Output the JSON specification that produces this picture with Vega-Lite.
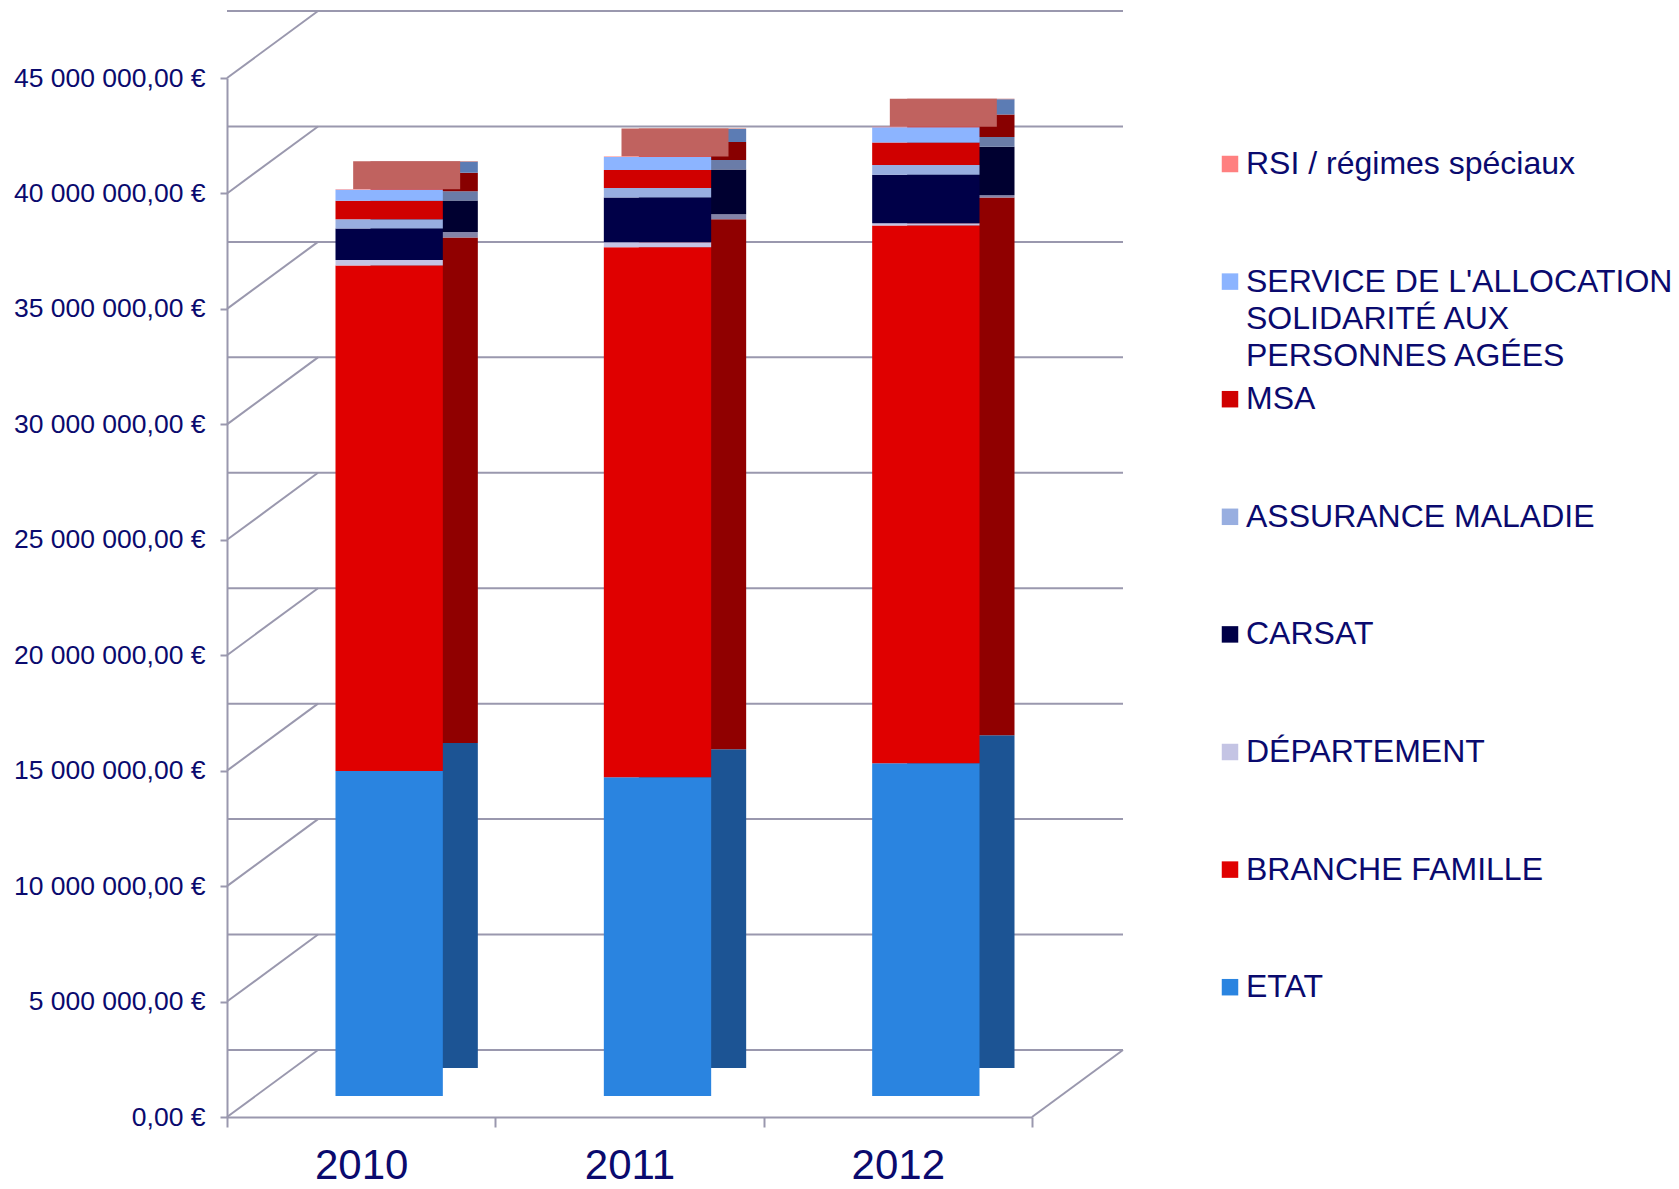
{
  "$schema": "https://vega.github.io/schema/vega-lite/v6.json",
  "padding": {"left": 13, "top": 10, "right": 5, "bottom": 0},
  "width": 805,
  "height": 1039,
  "background": "white",
  "config": {
    "view": {"stroke": null},
    "font": "Liberation Sans",
    "locale": {"number": {"decimal": ",", "thousands": " ", "grouping": [3], "currency": ["", " €"]}},
    "style": {"guide-label": {"lineHeight": 37}},
    "axisY": {"labelFontSize": 26.5, "labelColor": "#0A0A6E", "labelPadding": 15, "labelLimit": 400, "tickSize": 7, "tickColor": "#9A98AE", "tickWidth": 2, "domainColor": "#9A98AE", "domainWidth": 2, "grid": false, "labelFont": "Liberation Sans"},
    "axisX": {"labelFontSize": 42, "labelColor": "#0A0A6E", "tickBand": "extent", "tickSize": 10, "labelPadding": 18, "domainColor": "#9A98AE", "domainWidth": 2, "tickColor": "#9A98AE", "tickWidth": 2, "labelAngle": 0, "grid": false, "labelFont": "Liberation Sans"}
  },
  "datasets": {
    "grid": [
      {"g": 0}, {"g": 5000000}, {"g": 10000000}, {"g": 15000000}, {"g": 20000000},
      {"g": 25000000}, {"g": 30000000}, {"g": 35000000}, {"g": 40000000}, {"g": 45000000}
    ],
    "fin": [
      {"annee": "2010", "serie": "ETAT", "k": 1, "value": 14080000},
      {"annee": "2010", "serie": "BRANCHE FAMILLE", "k": 2, "value": 21890000},
      {"annee": "2010", "serie": "DÉPARTEMENT", "k": 3, "value": 240000},
      {"annee": "2010", "serie": "CARSAT", "k": 4, "value": 1360000},
      {"annee": "2010", "serie": "ASSURANCE MALADIE", "k": 5, "value": 400000},
      {"annee": "2010", "serie": "MSA", "k": 6, "value": 800000},
      {"annee": "2010", "serie": "SERVICE DE L'ALLOCATION SOLIDARITÉ AUX PERSONNES AGÉES", "k": 7, "value": 480000},
      {"annee": "2010", "serie": "RSI / régimes spéciaux", "k": 8, "value": 20000},
      {"annee": "2011", "serie": "ETAT", "k": 1, "value": 13800000},
      {"annee": "2011", "serie": "BRANCHE FAMILLE", "k": 2, "value": 22960000},
      {"annee": "2011", "serie": "DÉPARTEMENT", "k": 3, "value": 220000},
      {"annee": "2011", "serie": "CARSAT", "k": 4, "value": 1940000},
      {"annee": "2011", "serie": "ASSURANCE MALADIE", "k": 5, "value": 410000},
      {"annee": "2011", "serie": "MSA", "k": 6, "value": 780000},
      {"annee": "2011", "serie": "SERVICE DE L'ALLOCATION SOLIDARITÉ AUX PERSONNES AGÉES", "k": 7, "value": 560000},
      {"annee": "2011", "serie": "RSI / régimes spéciaux", "k": 8, "value": 20000},
      {"annee": "2012", "serie": "ETAT", "k": 1, "value": 14410000},
      {"annee": "2012", "serie": "BRANCHE FAMILLE", "k": 2, "value": 23290000},
      {"annee": "2012", "serie": "DÉPARTEMENT", "k": 3, "value": 100000},
      {"annee": "2012", "serie": "CARSAT", "k": 4, "value": 2100000},
      {"annee": "2012", "serie": "ASSURANCE MALADIE", "k": 5, "value": 420000},
      {"annee": "2012", "serie": "MSA", "k": 6, "value": 980000},
      {"annee": "2012", "serie": "SERVICE DE L'ALLOCATION SOLIDARITÉ AUX PERSONNES AGÉES", "k": 7, "value": 660000},
      {"annee": "2012", "serie": "RSI / régimes spéciaux", "k": 8, "value": 20000}
    ]
  },
  "resolve": {"scale": {"color": "independent"}, "legend": {"color": "independent"}},
  "layer": [
    {
      "data": {"name": "grid"},
      "mark": {"type": "rule", "color": "#9A98AE", "strokeWidth": 2, "xOffset": 91, "x2Offset": 91, "yOffset": -67, "y2Offset": -67},
      "encoding": {
        "y": {"field": "g", "type": "quantitative", "title": null, "scale": {"domain": [0, 45000000], "nice": false}}
      }
    },
    {
      "data": {"name": "grid"},
      "mark": {"type": "rule", "color": "#9A98AE", "strokeWidth": 2, "x2Offset": 91, "y2Offset": -67},
      "encoding": {
        "x": {"datum": "2010", "type": "nominal", "bandPosition": 0, "title": null},
        "x2": {"datum": "2010", "bandPosition": 0},
        "y": {"field": "g", "type": "quantitative", "title": null},
        "y2": {"field": "g"}
      }
    },
    {
      "data": {"values": [{"g": 0}]},
      "mark": {"type": "rule", "color": "#9A98AE", "strokeWidth": 2, "x2Offset": 91, "y2Offset": -67},
      "encoding": {
        "x": {"datum": "2012", "type": "nominal", "bandPosition": 1, "title": null},
        "x2": {"datum": "2012", "bandPosition": 1},
        "y": {"field": "g", "type": "quantitative", "title": null},
        "y2": {"field": "g"}
      }
    },
    {
      "data": {"name": "fin"},
      "mark": {"type": "bar", "width": {"band": 0.4}, "xOffset": 63, "x2Offset": 63, "yOffset": -49, "y2Offset": -49},
      "encoding": {
        "x": {"field": "annee", "type": "nominal", "title": null},
        "y": {"field": "value", "type": "quantitative", "stack": "zero", "title": null},
        "order": {"field": "k", "type": "quantitative"},
        "color": {
          "field": "serie", "type": "nominal", "legend": null,
          "scale": {
            "domain": ["RSI / régimes spéciaux", "SERVICE DE L'ALLOCATION SOLIDARITÉ AUX PERSONNES AGÉES", "MSA", "ASSURANCE MALADIE", "CARSAT", "DÉPARTEMENT", "BRANCHE FAMILLE", "ETAT"],
            "range": ["#C0625F", "#5C7CB4", "#880000", "#6A7CA8", "#000030", "#8484A8", "#900000", "#1C5494"]
          }
        }
      }
    },
    {
      "data": {"name": "fin"},
      "mark": {"type": "tick", "color": "#C0625F", "opacity": 1, "thickness": 28, "size": 107, "xOffset": 45.5, "yOffset": -35},
      "encoding": {
        "x": {"field": "annee", "type": "nominal", "title": null},
        "y": {"aggregate": "sum", "field": "value", "type": "quantitative", "title": null}
      }
    },
    {
      "data": {"name": "fin"},
      "mark": {"type": "bar", "width": {"band": 0.4}, "xOffset": 28, "x2Offset": 28, "yOffset": -21, "y2Offset": -21},
      "encoding": {
        "x": {
          "field": "annee", "type": "nominal", "title": null,
          "scale": {"type": "band", "paddingInner": 0, "paddingOuter": 0}
        },
        "y": {
          "field": "value", "type": "quantitative", "stack": "zero", "title": null,
          "axis": {"values": [0, 5000000, 10000000, 15000000, 20000000, 25000000, 30000000, 35000000, 40000000, 45000000], "format": "$,.2f"}
        },
        "order": {"field": "k", "type": "quantitative"},
        "color": {
          "field": "serie", "type": "nominal",
          "scale": {
            "domain": ["RSI / régimes spéciaux", "SERVICE DE L'ALLOCATION SOLIDARITÉ AUX PERSONNES AGÉES", "MSA", "ASSURANCE MALADIE", "CARSAT", "DÉPARTEMENT", "BRANCHE FAMILLE", "ETAT"],
            "range": ["#FF8080", "#8CB4FF", "#D00000", "#98AEE0", "#000048", "#C4C4E4", "#E00000", "#2A84E0"]
          },
          "legend": {
            "orient": "none", "legendX": 987, "legendY": 70, "direction": "vertical", "title": null,
            "symbolType": "square", "symbolSize": 272, "symbolStrokeWidth": 0, "symbolOpacity": 1,
            "labelFontSize": 32, "labelColor": "#0A0A6E", "labelFont": "Liberation Sans", "labelOffset": 0, "labelLimit": 700,
            "rowPadding": 11.6, "gridAlign": "all",
            "labelExpr": "indexof(datum.label, 'SERVICE') == 0 ? [\"SERVICE DE L'ALLOCATION\", \"SOLIDARITÉ AUX\", \"PERSONNES AGÉES\"] : (datum.label == 'BRANCHE FAMILLE' ? '\u00a0BRANCHE FAMILLE' : datum.label)"
          }
        }
      }
    }
  ]
}
